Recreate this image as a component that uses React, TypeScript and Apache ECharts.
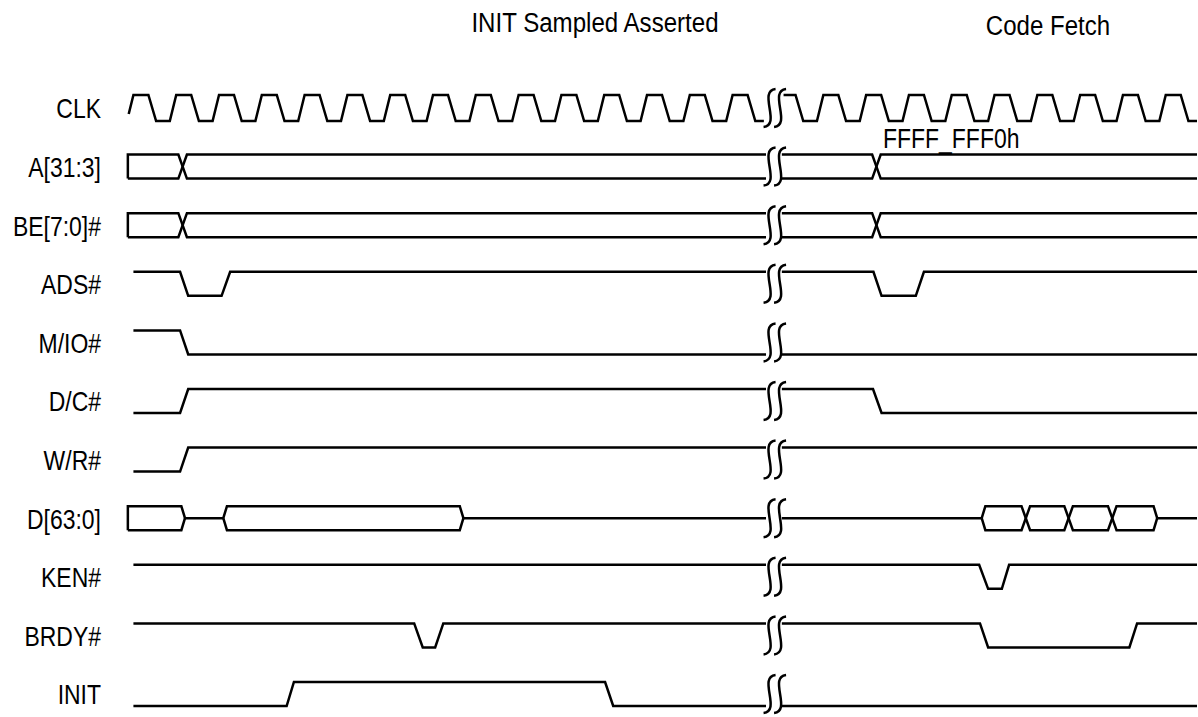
import React, { useEffect, useRef } from 'react';
import * as echarts from 'echarts';

// ---------- data ----------
const SIGNAL_NAMES = ['CLK', 'A[31:3]', 'BE[7:0]#', 'ADS#', 'M/IO#', 'D/C#', 'W/R#', 'D[63:0]', 'KEN#', 'BRDY#', 'INIT'];
const TITLE_LEFT = 'INIT Sampled Asserted';
const TITLE_RIGHT = 'Code Fetch';
const ADDRESS_LABEL = 'FFFF_FFF0h';

// time axis in clock periods
const T_END = 25;
const BL = 14.93; // lines end before the break
const BR = 15.3; // lines resume after the break
const BREAK_T = 15.13;

// clock rising edges (cycle starts)
const CLK_RISES_BEFORE = [0, 1, 2, 3, 4, 5, 6, 7, 8, 9, 10, 11, 12, 13, 14];
const CLK_RISES_AFTER = [15.12, 16.12, 17.12, 18.12, 19.12, 20.12, 21.12, 22.12, 23.12, 24.12];
const CLK_WINDOW_BEFORE = [0.04, 14.88];
const CLK_WINDOW_AFTER = [15.34, 25];

// digital signals: [time, level] (1 = high, 0 = low)
const ADS_BEFORE = [[0.15, 1], [1.24, 1], [1.43, 0], [2.21, 0], [2.41, 1], [BL, 1]];
const ADS_AFTER = [[BR, 1], [17.44, 1], [17.63, 0], [18.43, 0], [18.62, 1], [T_END, 1]];
const MIO_BEFORE = [[0.15, 1], [1.24, 1], [1.43, 0], [BL, 0]];
const MIO_AFTER = [[BR, 0], [T_END, 0]];
const DC_BEFORE = [[0.15, 0], [1.24, 0], [1.43, 1], [BL, 1]];
const DC_AFTER = [[BR, 1], [17.43, 1], [17.63, 0], [T_END, 0]];
const WR_BEFORE = [[0.15, 0], [1.24, 0], [1.43, 1], [BL, 1]];
const WR_AFTER = [[BR, 1], [T_END, 1]];
const KEN_BEFORE = [[0.15, 1], [BL, 1]];
const KEN_AFTER = [[BR, 1], [19.91, 1], [20.12, 0], [20.44, 0], [20.61, 1], [T_END, 1]];
const BRDY_BEFORE = [[0.15, 1], [6.71, 1], [6.91, 0], [7.2, 0], [7.39, 1], [BL, 1]];
const BRDY_AFTER = [[BR, 1], [19.93, 1], [20.12, 0], [23.42, 0], [23.6, 1], [T_END, 1]];
const INIT_BEFORE = [[0.15, 0], [3.73, 0], [3.9, 1], [11.17, 1], [11.36, 0], [BL, 0]];
const INIT_AFTER = [[BR, 0], [T_END, 0]];

// buses: [time, event]
const BUS_A_BEFORE: [number, string][] = [[0.02, 'open'], [1.3, 'x'], [BL, 'cut']];
const BUS_A_AFTER: [number, string][] = [[BR, 'start'], [17.51, 'x'], [T_END, 'cut']];
const BUS_BE_BEFORE: [number, string][] = [[0.02, 'open'], [1.3, 'x'], [BL, 'cut']];
const BUS_BE_AFTER: [number, string][] = [[BR, 'start'], [17.51, 'x'], [T_END, 'cut']];
const BUS_D_BEFORE: [number, string][] = [[0.02, 'open'], [1.355, 'out'], [2.25, 'in'], [7.86, 'out'], [BL, 'cut']];
const BUS_D_AFTER: [number, string][] = [[BR, 'float'], [19.97, 'in'], [21.0, 'x'], [22.0, 'x'], [23.02, 'x'], [24.07, 'out'], [T_END, 'cut']];

// ---------- helpers ----------
const AMP = 0.205;
const CLK_AMP = 0.222;
const RISE = 0.15;
const FALL = 0.18;
const XW = 0.1;
const TW = 0.085;

function clip(points: number[][], t0: number, t1: number) {
  const out: number[][] = [];
  for (let i = 0; i < points.length - 1; i++) {
    const [xa, ya] = points[i];
    const [xb, yb] = points[i + 1];
    const lo = Math.max(xa, t0);
    const hi = Math.min(xb, t1);
    if (hi < lo) continue;
    const f = (t: number) => (xb === xa ? ya : ya + ((yb - ya) * (t - xa)) / (xb - xa));
    if (!out.length) out.push([lo, f(lo)]);
    out.push([hi, f(hi)]);
  }
  return out;
}

function clockLine(rises: number[], win: number[], row: number) {
  const pts: number[][] = [];
  rises.forEach((r) => {
    pts.push([r, 0], [r + RISE, 1], [r + 0.5, 1], [r + 0.5 + FALL, 0]);
  });
  pts.push([rises[rises.length - 1] + 1, 0]);
  return clip(pts, win[0], win[1]).map(([t, l]) => [t, row + CLK_AMP * (1 - 2 * l)]);
}

function digital(pts: number[][], row: number) {
  return pts.map(([t, l]) => [t, l ? row - AMP : row + AMP]);
}

function busLines(events: [number, string][], row: number) {
  const top = row - AMP, bot = row + AMP, mid = row;
  const out: number[][][] = [];
  let up: number[][] | null = null;
  let dn: number[][] | null = null;
  let md: number[][] | null = null;
  for (const [t, k] of events) {
    if (k === 'open') { up = [[t, bot], [t, top]]; dn = [[t, bot]]; }
    else if (k === 'start') { up = [[t, top]]; dn = [[t, bot]]; }
    else if (k === 'float') { md = [[t, mid]]; }
    else if (k === 'x') {
      up!.push([t - XW, top], [t + XW, bot]);
      dn!.push([t - XW, bot], [t + XW, top]);
      const tmp = up; up = dn; dn = tmp;
    } else if (k === 'out') {
      up!.push([t - TW, top], [t, mid]);
      dn!.push([t - TW, bot], [t, mid]);
      out.push(up!, dn!); up = null; dn = null;
      md = [[t, mid]];
    } else if (k === 'in') {
      md!.push([t, mid]); out.push(md!); md = null;
      up = [[t, mid], [t + TW, top]];
      dn = [[t, mid], [t + TW, bot]];
    } else if (k === 'cut') {
      if (up && dn) { up.push([t, top]); dn.push([t, bot]); out.push(up, dn); }
      if (md) { md.push([t, mid]); out.push(md); }
      up = null; dn = null; md = null;
    }
  }
  return out;
}

const FONT = "'Liberation Sans', Arial, sans-serif";
const NARROW = 0.82;
const TITLE_NARROW = 0.86;
const FS = 28;

export default function App() {
  const ref = useRef<HTMLDivElement>(null);
  useEffect(() => {
    if (!ref.current) return;
    const chart = echarts.init(ref.current, undefined, { renderer: 'svg' });

    const polylines: number[][][] = [
      clockLine(CLK_RISES_BEFORE, CLK_WINDOW_BEFORE, 0),
      clockLine(CLK_RISES_AFTER, CLK_WINDOW_AFTER, 0),
      ...busLines(BUS_A_BEFORE, 1),
      ...busLines(BUS_A_AFTER, 1),
      ...busLines(BUS_BE_BEFORE, 2),
      ...busLines(BUS_BE_AFTER, 2),
      digital(ADS_BEFORE, 3), digital(ADS_AFTER, 3),
      digital(MIO_BEFORE, 4), digital(MIO_AFTER, 4),
      digital(DC_BEFORE, 5), digital(DC_AFTER, 5),
      digital(WR_BEFORE, 6), digital(WR_AFTER, 6),
      ...busLines(BUS_D_BEFORE, 7),
      ...busLines(BUS_D_AFTER, 7),
      digital(KEN_BEFORE, 8), digital(KEN_AFTER, 8),
      digital(BRDY_BEFORE, 9), digital(BRDY_AFTER, 9),
      digital(INIT_BEFORE, 10), digital(INIT_AFTER, 10),
    ];

    const rowPx = 58.6;
    const textStyle = (text: string, align: string) => ({
      text, fontSize: FS, fontFamily: FONT, fill: '#000', align, verticalAlign: 'middle',
    });
    chart.setOption({
      animation: false,
      backgroundColor: '#fff',
      grid: { left: 127, top: 108 - rowPx, width: 1070, height: rowPx * 11.4, containLabel: false, outerBoundsMode: 'none' },
      xAxis: { type: 'value', min: 0, max: T_END, show: false },
      yAxis: {
        type: 'value', inverse: true, min: -1, max: 10.4, interval: 1, show: false,
      },
      series: [
        {
          type: 'lines', coordinateSystem: 'cartesian2d', polyline: true, silent: true,
          lineStyle: { color: '#000', width: 2.5, opacity: 1, curveness: 0 },
          data: polylines.map((c) => ({ coords: c })),
        },
        {
          type: 'custom', coordinateSystem: 'cartesian2d', silent: true, clip: false,
          data: SIGNAL_NAMES.map((_, i) => [BREAK_T, i]),
          renderItem: (_p: any, api: any) => {
            const p = api.coord([api.value(0), api.value(1)]);
            const mk = (cx: number) => ({
              type: 'bezierCurve',
              shape: { x1: cx + 6, y1: p[1] - 19, cpx1: cx - 12, cpy1: p[1] - 17, cpx2: cx + 12, cpy2: p[1] + 17, x2: cx - 6, y2: p[1] + 19 },
              style: { stroke: '#000', lineWidth: 2.5, fill: null },
            });
            return { type: 'group', children: [mk(p[0] - 5), mk(p[0] + 5.5)] };
          },
        },
      ],
    });

    const rowLabels = SIGNAL_NAMES.map((name, i) => {
      const pt = chart.convertToPixel({ gridIndex: 0 }, [0, i]) as number[];
      return { type: 'text', x: 101, y: pt[1] + 0.5, scaleX: NARROW, style: textStyle(name, 'right') };
    });
    chart.setOption({
      graphic: [
        { type: 'text', x: 595, y: 22, scaleX: TITLE_NARROW, style: textStyle(TITLE_LEFT, 'center') },
        { type: 'text', x: 1048, y: 25, scaleX: TITLE_NARROW, style: textStyle(TITLE_RIGHT, 'center') },
        { type: 'text', x: 883, y: 138, scaleX: NARROW, style: textStyle(ADDRESS_LABEL, 'left') },
        ...rowLabels,
      ],
    });
    return () => chart.dispose();
  }, []);
  return <div ref={ref} style={{ position: 'absolute', left: 0, top: 0, width: 1198, height: 717 }} />;
}
